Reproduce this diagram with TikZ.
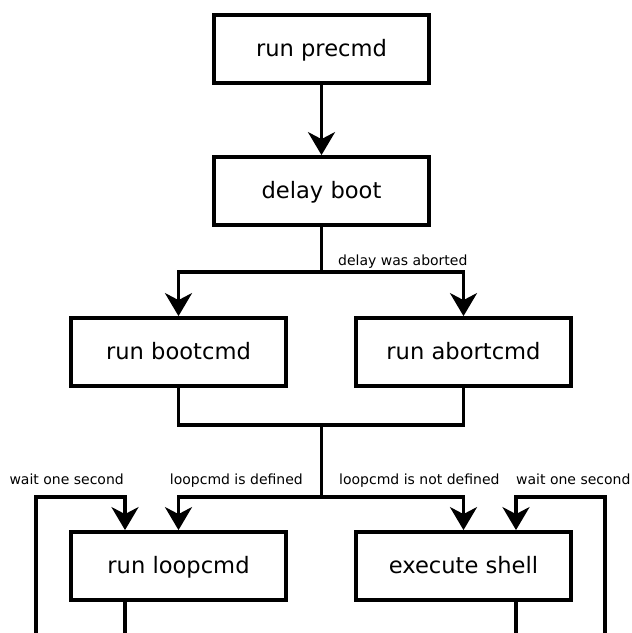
\documentclass[tikz,border=0pt]{standalone}
\usepackage{fontspec}
\setmainfont{DejaVu Sans}
\usetikzlibrary{arrows.meta}
\begin{document}
\begin{tikzpicture}[x=1pt,y=-1pt,
  box/.style={draw, line width=3.8pt, minimum width=215pt, minimum height=68pt, inner sep=0pt,
    font=\fontsize{22.6}{26}\selectfont, text height=14pt, text depth=0pt},
  conn/.style={line width=3.3pt},
  arr/.style={conn, -{Stealth[length=23pt,width=27pt,inset=7pt]}},
  lab/.style={inner sep=0pt, font=\fontsize{14}{16}\selectfont}]
\useasboundingbox (0,0) rectangle (632,633);
\fill[white] (0,0) rectangle (632,633);
\clip (0,0) rectangle (632,633);

\node[box] (pre) at (321.5,49) {run precmd};
\node[box] (delay) at (321.5,191) {delay boot};
\node[box] (boot) at (178.5,352) {run bootcmd};
\node[box] (abort) at (463.5,352) {run abortcmd};
\node[box] (loop) at (178.5,566) {run loopcmd};
\node[box] (shell) at (463.5,566) {execute shell};

\draw[arr] (pre) -- (delay);
\coordinate (s1) at (321.5,272);
\draw[conn] (delay.south) -- (s1);
\draw[arr] (s1) -| (boot.north);
\draw[arr] (s1) -| (abort.north);
\node[lab, anchor=base west] (l1) at (338,265.5) {delay was aborted};

\coordinate (j) at (321.5,425);
\draw[conn] (boot.south) |- (j) -| (abort.south);
\coordinate (s2) at (321.5,497);
\draw[conn] (j) -- (s2);
\draw[arr] (s2) -| (loop.north);
\draw[arr] (s2) -| (shell.north);

\coordinate (lw) at (36,497);
\coordinate (rw) at (605,497);
\draw[arr] ([xshift=-53.5pt]loop.south) -- ++(0,60) -| (lw) -| ([xshift=-53.5pt]loop.north);
\draw[arr] ([xshift=52.5pt]shell.south) -- ++(0,60) -| (rw) -| ([xshift=52.5pt]shell.north);

\node[lab, anchor=base east] (l2) at (124,484) {wait one second};
\node[lab, anchor=base east] (l3) at (303,484) {loopcmd is defined};
\node[lab, anchor=base west] (l4) at (339,484) {loopcmd is not defined};
\node[lab, anchor=base west] (l5) at (516,484) {wait one second};
\end{tikzpicture}
\end{document}
